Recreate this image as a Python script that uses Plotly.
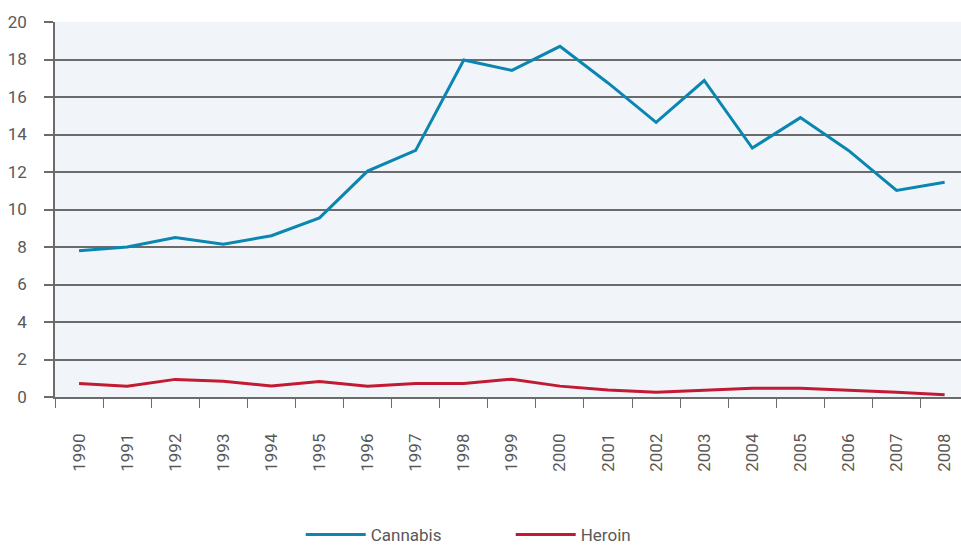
import plotly.graph_objects as go

years = list(range(1990, 2009))
year_labels = [str(y) for y in years]
cannabis = [7.8, 8.0, 8.5, 8.15, 8.6, 9.55, 12.05, 13.15, 17.97, 17.42, 18.7, 16.75, 14.65, 16.88, 13.28, 14.9, 13.15, 11.02, 11.45]
heroin = [0.72, 0.58, 0.94, 0.84, 0.59, 0.82, 0.58, 0.72, 0.72, 0.95, 0.58, 0.38, 0.26, 0.37, 0.47, 0.47, 0.37, 0.26, 0.12]
y_ticks = [0, 2, 4, 6, 8, 10, 12, 14, 16, 18, 20]

grid_col = "#6b6b6b"
text_col = "#595959"

fig = go.Figure()
fig.add_trace(go.Scatter(x=years, y=cannabis, mode="lines", name="Cannabis",
                         line=dict(color="#0a86b1", width=3)))
fig.add_trace(go.Scatter(x=years, y=heroin, mode="lines", name="Heroin",
                         line=dict(color="#c21a32", width=3)))

fig.update_layout(
    width=961, height=547,
    margin=dict(l=55, r=0, t=22, b=150, autoexpand=False),
    paper_bgcolor="white",
    plot_bgcolor="#f1f5f9",
    font=dict(family="Roboto", color=text_col, size=16),
    showlegend=True,
    legend=dict(orientation="h", x=0.503, xanchor="center",
                yref="container", y=0.022, yanchor="middle",
                font=dict(size=17, color=text_col), entrywidth=135,
                itemwidth=60),
)
fig.update_xaxes(
    range=[1989.5, 2008.34], automargin=False,
    tickvals=years, ticktext=year_labels, tickangle=-90,
    ticks="outside", ticklen=28, tickcolor="rgba(0,0,0,0)",
    showgrid=False, zeroline=False,
    showline=True, linecolor=grid_col, linewidth=1.5,
    tickfont=dict(size=17, color=text_col),
    minor=dict(tickvals=[y - 0.5 for y in years], ticks="outside", ticklen=9,
               tickcolor=grid_col, tickwidth=1.2, showgrid=False),
)
fig.update_yaxes(
    range=[0, 20], tickvals=y_ticks, automargin=False,
    ticks="outside", ticklen=9, tickcolor=grid_col, tickwidth=1.5,
    showgrid=True, gridcolor=grid_col, gridwidth=1.5,
    zeroline=False, showline=True, linecolor=grid_col, linewidth=1.5,
    tickfont=dict(size=17, color=text_col),
    ticklabelstandoff=14,
)

fig.write_html("out.html", config={"displayModeBar": False},
               post_script="document.body.style.margin='0px';document.body.style.overflow='hidden';")
